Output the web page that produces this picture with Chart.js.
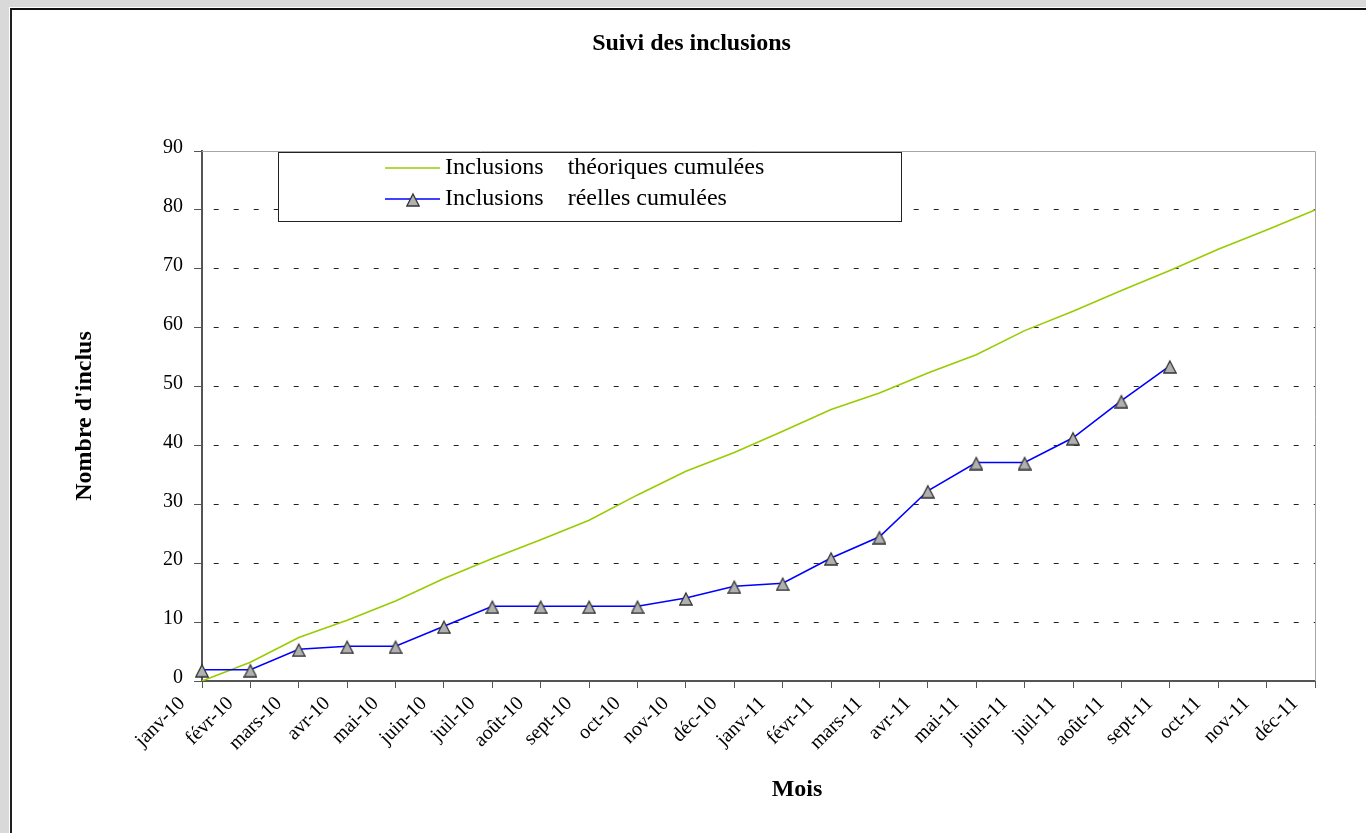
<!DOCTYPE html>
<html lang="fr">
<head>
<meta charset="utf-8">
<title>Suivi des inclusions</title>
<script src="https://cdn.jsdelivr.net/npm/chart.js@4.4.1/dist/chart.umd.min.js"></script>
<style>
  html, body { margin: 0; padding: 0; width: 1366px; height: 833px; overflow: hidden; background: #d9d9d9; }
  .page { position: absolute; left: 9px; top: 7px; right: 0; bottom: 0; background: #fff; }
  .sheet { position: absolute; left: 1px; top: 1px; right: 0; bottom: 0;
           border-left: 2px solid #1e1e1e; border-top: 2px solid #111; background: #fff; }
  canvas { display: block; }
</style>
</head>
<body>
<div class="page"><div class="sheet"><canvas id="chart" width="1354" height="823" style="width:1354px;height:823px"></canvas></div></div>
<script>
// Month categories on the x axis
const months = [
  'janv-10', 'févr-10', 'mars-10', 'avr-10', 'mai-10', 'juin-10',
  'juil-10', 'août-10', 'sept-10', 'oct-10', 'nov-10', 'déc-10',
  'janv-11', 'févr-11', 'mars-11', 'avr-11', 'mai-11', 'juin-11',
  'juil-11', 'août-11', 'sept-11', 'oct-11', 'nov-11', 'déc-11'
];

// Planned cumulative inclusions (whole period)
const theoretical = [
  0, 3.2, 7.4, 10.3, 13.6, 17.4, 20.8, 24.0, 27.3, 31.6, 35.6, 38.8,
  42.4, 46.1, 48.9, 52.3, 55.4, 59.5, 62.8, 66.3, 69.7, 73.3, 76.6, 80
];

// Observed cumulative inclusions (up to sept-11)
const actual = [
  1.9, 1.9, 5.4, 5.9, 5.9, 9.3, 12.7, 12.7, 12.7, 12.7, 14.1, 16.1,
  16.6, 20.9, 24.5, 32.3, 37.1, 37.1, 41.3, 47.6, 53.5
];

// Series names
const seriesNames = ['Inclusions    théoriques cumulées', 'Inclusions    réelles cumulées'];

// Y axis range
const yMin = 0, yMax = 90, yStep = 10;

const SERIF = "'Liberation Serif', 'Times New Roman', serif";

// Grey triangle marker, sitting slightly below its anchor point
function makeTriangle() {
  const c = document.createElement('canvas');
  c.width = 14; c.height = 16;
  const g = c.getContext('2d');
  g.beginPath();
  g.moveTo(7, 3);
  g.lineTo(13.2, 15);
  g.lineTo(0.8, 15);
  g.closePath();
  g.fillStyle = '#b0b0b0';
  g.fill();
  g.lineWidth = 1.3;
  g.strokeStyle = '#333';
  g.stroke();
  return c;
}
const triangle = makeTriangle();

// Grey frame on the top and right of the plot area
const plotFrame = {
  id: 'plotFrame',
  beforeDatasetsDraw(chart) {
    const { ctx, chartArea: a } = chart;
    ctx.save();
    ctx.strokeStyle = '#a6a6a6';
    ctx.lineWidth = 1;
    ctx.beginPath();
    ctx.moveTo(a.left, a.top + 0.5);
    ctx.lineTo(a.right + 0.5, a.top + 0.5);
    ctx.lineTo(a.right + 0.5, a.bottom);
    ctx.stroke();
    ctx.restore();
  }
};

// Boxed legend inside the plot area
const boxedLegend = {
  id: 'boxedLegend',
  afterDatasetsDraw(chart) {
    const { ctx } = chart;
    const box = { x: 266, y: 142, w: 623, h: 69 };
    ctx.save();
    ctx.fillStyle = '#fff';
    ctx.fillRect(box.x, box.y, box.w, box.h);
    ctx.strokeStyle = '#222';
    ctx.lineWidth = 1;
    ctx.strokeRect(box.x + 0.5, box.y + 0.5, box.w, box.h);
    ctx.font = '24px ' + SERIF;
    ctx.textBaseline = 'middle';
    ctx.textAlign = 'left';
    chart.data.datasets.forEach((ds, i) => {
      const y = box.y + 16 + i * 31;
      ctx.strokeStyle = ds.borderColor;
      ctx.lineWidth = ds.borderWidth;
      ctx.beginPath();
      ctx.moveTo(373, y);
      ctx.lineTo(428, y);
      ctx.stroke();
      if (ds.pointRadius > 0) {
        ctx.drawImage(triangle, 401 - triangle.width / 2, y - triangle.height / 2);
      }
      ctx.fillStyle = '#000';
      ctx.fillText(ds.label, 433, y);
    });
    ctx.restore();
  }
};

// Horizontal axis title
const xTitle = {
  id: 'xTitle',
  afterDraw(chart) {
    const { ctx } = chart;
    ctx.save();
    ctx.font = 'bold 24px ' + SERIF;
    ctx.fillStyle = '#000';
    ctx.textAlign = 'center';
    ctx.textBaseline = 'middle';
    ctx.fillText('Mois', 785, 780);
    ctx.restore();
  }
};

new Chart(document.getElementById('chart'), {
  type: 'line',
  data: {
    labels: months,
    datasets: [
      {
        label: seriesNames[0],
        data: theoretical,
        borderColor: '#99cc00',
        borderWidth: 1.6,
        pointRadius: 0,
        tension: 0,
        order: 2
      },
      {
        label: seriesNames[1],
        data: actual,
        borderColor: '#0000ff',
        borderWidth: 1.6,
        pointStyle: triangle,
        pointRadius: 7,
        tension: 0,
        order: 1
      }
    ]
  },
  options: {
    responsive: false,
    animation: false,
    layout: { padding: { left: 56, right: 51, top: 14, bottom: 0 } },
    plugins: {
      legend: { display: false },
      tooltip: { enabled: false },
      title: {
        display: true,
        text: 'Suivi des inclusions',
        color: '#000',
        font: { family: SERIF, size: 24, weight: 'bold' },
        padding: { top: 5.6, bottom: 92.6 }
      }
    },
    scales: {
      x: {
        type: 'category',
        offset: false,
        afterFit(scale) { scale.height = 152; },
        grid: {
          display: true,
          drawOnChartArea: false,
          drawTicks: true,
          tickLength: 7,
          tickColor: '#555',
          color: '#555'
        },
        border: { display: true, color: '#555', width: 2 },
        ticks: {
          autoSkip: false,
          maxRotation: 45,
          minRotation: 45,
          labelOffset: -20,
          padding: 4,
          color: '#000',
          font: { family: SERIF, size: 20 }
        }
      },
      y: {
        min: yMin,
        max: yMax,
        afterFit(scale) { scale.width = 134; },
        grid: {
          color: (c) => (c.tick && (c.tick.value === yMin || c.tick.value === yMax)) ? 'rgba(0,0,0,0)' : '#222',
          lineWidth: 1,
          tickColor: '#555',
          tickLength: 8
        },
        border: { display: true, color: '#555', width: 2, dash: [5, 15], dashOffset: 9.3 },
        ticks: {
          stepSize: yStep,
          padding: 11,
          labelOffset: -3,
          color: '#000',
          font: { family: SERIF, size: 20 }
        },
        title: {
          display: true,
          text: "Nombre d'inclus",
          color: '#000',
          font: { family: SERIF, size: 24, weight: 'bold' },
          padding: { top: 2, bottom: 0 }
        }
      }
    }
  },
  plugins: [plotFrame, boxedLegend, xTitle]
});
</script>
</body>
</html>
